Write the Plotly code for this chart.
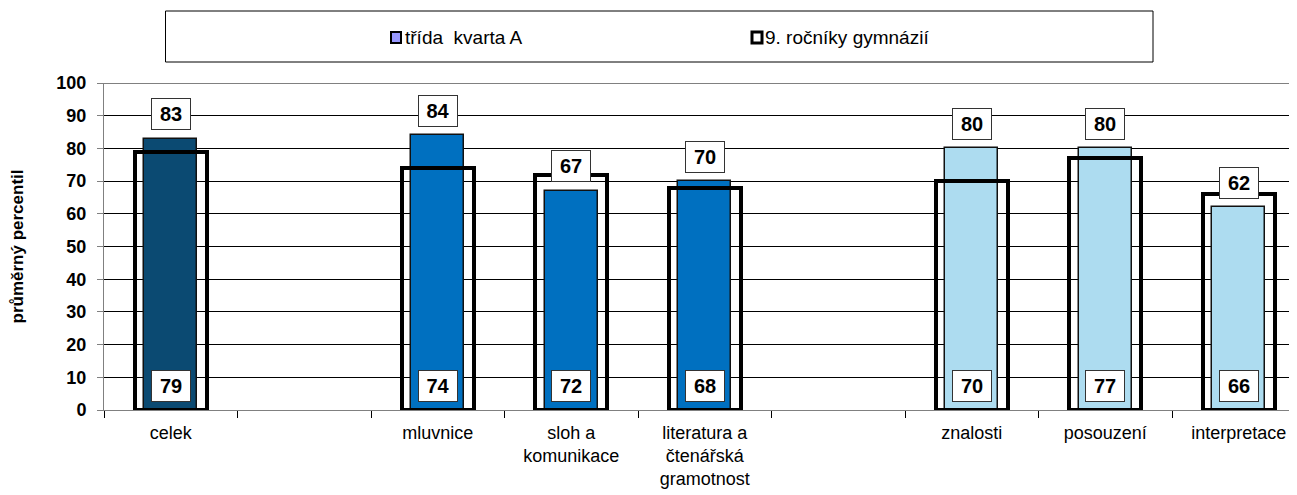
import plotly.graph_objects as go

# data
kategorie = ["celek", " ", "mluvnice", "sloh a<br>komunikace",
             "literatura a<br>čtenářská<br>gramotnost", "  ",
             "znalosti", "posouzení", "interpretace"]
trida = [83, None, 84, 67, 70, None, 80, 80, 62]
gymnazia = [79, None, 74, 72, 68, None, 70, 77, 66]
barvy = ["#0B4A72", "rgba(0,0,0,0)", "#0070C0", "#0070C0", "#0070C0",
         "rgba(0,0,0,0)", "#ADDCF0", "#ADDCF0", "#ADDCF0"]
legenda = ["třída  kvarta A", "9. ročníky gymnázií"]

# the page body adds an 8 px margin, so the figure is a bit smaller
OFF = 8
W, H = 1297 - OFF, 495 - OFF
ML, MR, MT, MB = 104 - OFF, 0, 83 - OFF, 85
PW = W - ML - MR
PH = H - MT - MB
FONT = "Liberation Sans, Arial, sans-serif"

def px(x):  # window pixel -> paper (x)
    return (x - OFF - ML) / PW

def py(y):  # window pixel -> paper (y)
    return (H - MB - (y - OFF)) / PH

fig = go.Figure()
fig.add_trace(go.Bar(x=kategorie, y=trida, name=legenda[0], width=0.397,
                     marker=dict(color=barvy, line=dict(color="#111111", width=1.5)),
                     showlegend=False, hoverinfo="x+y"))
fig.add_trace(go.Bar(x=kategorie, y=gymnazia, name=legenda[1], width=0.54,
                     marker=dict(color="rgba(0,0,0,0)", line=dict(color="#000000", width=4)),
                     showlegend=False, hoverinfo="x+y"))

# datové popisky
box = dict(bgcolor="white", bordercolor="#333333", borderwidth=1, borderpad=5,
           width=28, height=20, showarrow=False,
           font=dict(family=FONT, size=20, color="black", weight="bold"))
for k, t, g in zip(kategorie, trida, gymnazia):
    if t is None:
        continue
    fig.add_annotation(x=k, y=t + 7.5, text=str(t), **box)
    fig.add_annotation(x=k, y=7.3, text=str(g), **box)

# legenda (rámeček, značky, texty)
shapes = [
    dict(type="rect", xref="paper", yref="paper", x0=px(165.5), x1=px(1153),
         y0=py(62), y1=py(11), line=dict(color="#000000", width=1), fillcolor="white"),
    dict(type="rect", xref="paper", yref="paper", x0=px(391), x1=px(401),
         y0=py(43), y1=py(32), line=dict(color="#000000", width=2), fillcolor="#9999FF"),
    dict(type="rect", xref="paper", yref="paper", x0=px(752), x1=px(762),
         y0=py(43), y1=py(32), line=dict(color="#000000", width=3), fillcolor="white"),
    dict(type="line", xref="paper", yref="y", x0=0, x1=1, y0=100, y1=100,
         line=dict(color="#808080", width=2)),
]
for txt, xp in zip(legenda, [403, 763]):
    fig.add_annotation(xref="paper", yref="paper", x=px(xp), y=py(37.5), text=txt,
                       xanchor="left", yanchor="middle", showarrow=False,
                       font=dict(family=FONT, size=19, color="black"))

fig.update_xaxes(type="category", categoryorder="array", categoryarray=kategorie,
                 range=[-0.5, -0.5 + PW / 133.5],
                 tickson="boundaries", ticks="outside", ticklen=7, tickcolor="#000000",
                 showline=True, linecolor="#808080", linewidth=1, showgrid=False,
                 ticklabelstandoff=6,
                 tickfont=dict(family=FONT, size=18, color="black"))
fig.update_yaxes(range=[0, 100], dtick=10, ticks="outside", ticklen=6, tickcolor="#808080",
                 showline=True, linecolor="#808080", linewidth=1,
                 gridcolor="#000000", gridwidth=1, zeroline=False,
                 ticklabelstandoff=7,
                 tickfont=dict(family=FONT, size=18, color="black", weight="bold"),
                 title=dict(text="průměrný percentil", standoff=36,
                            font=dict(family=FONT, size=17, color="black", weight="bold")))
fig.update_layout(width=W, height=H, barmode="overlay", bargap=0,
                  paper_bgcolor="white", plot_bgcolor="white",
                  margin=dict(l=ML, r=MR, t=MT, b=MB, autoexpand=False),
                  shapes=shapes, showlegend=False)
fig.write_html("out.html")
